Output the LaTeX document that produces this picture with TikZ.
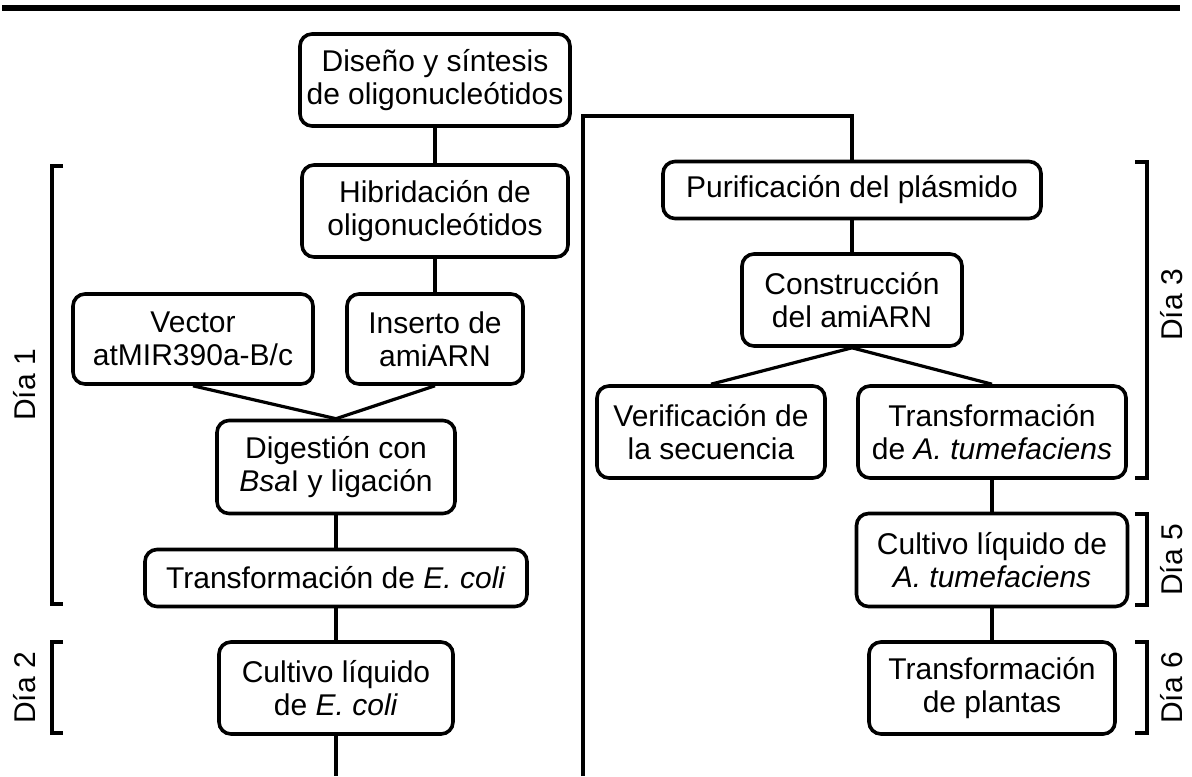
\documentclass[tikz,border=0pt]{standalone}
\usepackage{fontspec}
\setmainfont{Liberation Sans}
\begin{document}
\begin{tikzpicture}
  [x=0.5pt,y=-0.5pt,
   every node/.style={draw,rounded corners=6pt,line width=1.8pt,align=center,
     inner sep=0pt,font=\fontsize{15}{16.5}\selectfont},
   link/.style={line width=1.6pt},
   dia/.style={draw=none,rotate=90}]
  \useasboundingbox (0,0) rectangle (1192,776);
  \draw[line width=2.6pt] (2,8) -- (1180,8);

  % columna izquierda
  \node[minimum width=135pt,minimum height=46pt] (diseno) at (435,80) {Diseño y síntesis\\de oligonucleótidos};
  \node[minimum width=133pt,minimum height=46pt] (hibrid) at (435,211) {Hibridación de\\oligonucleótidos};
  \node[minimum width=120pt,minimum height=45pt] (vector) at (193,339) {Vector\\atMIR390a-B/c};
  \node[minimum width=88pt,minimum height=45pt] (inserto) at (435,339) {Inserto de\\amiARN};
  \node[minimum width=119pt,minimum height=46.5pt] (digest) at (336,467) {Digestión con\\\textit{Bsa}I y ligación};
  \node[minimum width=191pt,minimum height=28.5pt] (transfE) at (336,578) {Transformación de \textit{E. coli}};
  \node[minimum width=117pt,minimum height=46pt] (cultivoE) at (336,688) {Cultivo líquido\\de \textit{E. coli}};
  \coordinate (finE) at (336,776);

  % columna derecha
  \coordinate (sube) at (583,776);
  \coordinate (esq1) at (583,116);
  \coordinate (esq2) at (852,116);
  \node[minimum width=189pt,minimum height=28.5pt] (purif) at (852,190) {Purificación del plásmido};
  \node[minimum width=110pt,minimum height=46pt] (constr) at (852,300) {Construcción\\del amiARN};
  \node[minimum width=114pt,minimum height=46pt] (verif) at (711,432) {Verificación de\\la secuencia};
  \node[minimum width=134pt,minimum height=46pt] (transfA) at (992,432) {Transformación\\de \textit{A. tumefaciens}};
  \node[minimum width=135.5pt,minimum height=46.5pt] (cultivoA) at (992,560) {Cultivo líquido de\\\textit{A. tumefaciens}};
  \node[minimum width=123pt,minimum height=46pt] (plantas) at (992,688) {Transformación\\de plantas};

  \path[draw,link]
     (diseno) edge (hibrid)
     (hibrid) edge (inserto)
     (vector.south) edge (digest.north)
     (inserto.south) edge (digest.north)
     (digest) edge (transfE)
     (transfE) edge (cultivoE)
     (cultivoE) edge (finE)
     (purif) edge (constr)
     (constr.south) edge (verif.north)
     (constr.south) edge (transfA.north)
     (transfA) edge (cultivoA)
     (cultivoA) edge (plantas);
  \draw[link] (sube) -- (esq1) -- (esq2) -- (purif.north);

  % dias
  \draw[link] (63,166) -- (52,166) -- (52,604) -- (63,604);
  \draw[link] (63,642) -- (52,642) -- (52,733) -- (63,733);
  \draw[link] (1135,162) -- (1147,162) -- (1147,478) -- (1135,478);
  \draw[link] (1135,514) -- (1147,514) -- (1147,605) -- (1135,605);
  \draw[link] (1135,642) -- (1147,642) -- (1147,733) -- (1135,733);
  \node[dia] (dia1) at (25,385) {Día 1};
  \node[dia] (dia2) at (25,688) {Día 2};
  \node[dia] (dia3) at (1172,305) {Día 3};
  \node[dia] (dia5) at (1172,560) {Día 5};
  \node[dia] (dia6) at (1172,688) {Día 6};
\end{tikzpicture}
\end{document}
